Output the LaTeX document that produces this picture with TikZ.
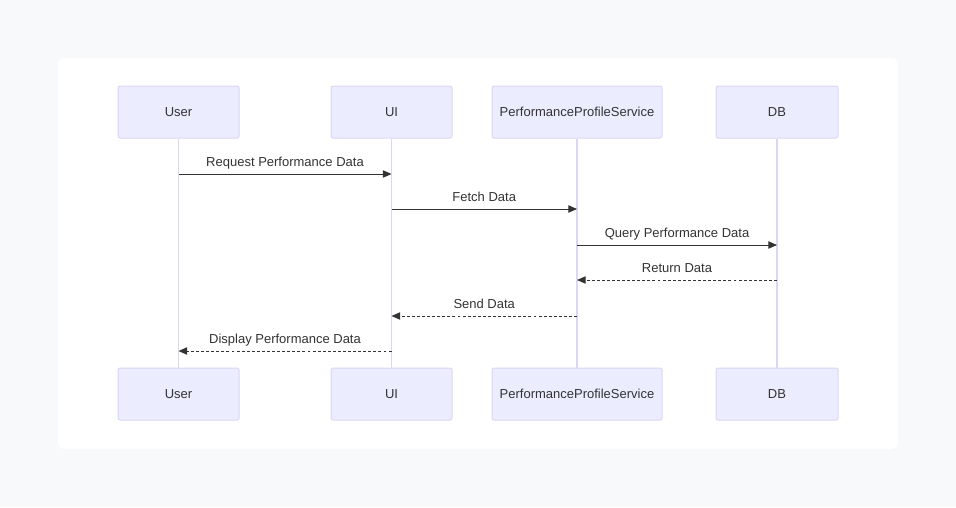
\documentclass[tikz,border=0pt]{standalone}
\usepackage{fontspec}
\setmainfont{Liberation Sans}
\usepackage{xcolor}
\definecolor{sqpage}{RGB}{248,249,250}
\definecolor{sqfill}{RGB}{236,236,255}
\definecolor{sqline}{RGB}{220,214,244}
\definecolor{sqtext}{RGB}{51,51,51}
\usetikzlibrary{arrows.meta,positioning,calc}

\begin{document}
\begin{tikzpicture}[
  x=0.75pt,y=-0.75pt,
  actor/.style={draw=sqline,fill=sqfill,line width=0.75pt,rounded corners=1.5pt,minimum height=39pt,inner sep=0pt,
    font=\fontsize{9.75}{12}\selectfont,text=sqtext},
  life/.style={draw=sqline,line width=1pt},
  msg/.style={draw=sqtext,line width=0.75pt,-{Triangle[length=6.5pt,width=5.5pt]}},
  reply/.style={msg,dashed,dash pattern=on 2.2pt off 1.6pt},
  lbl/.style={font=\fontsize{9.75}{12}\selectfont,text=sqtext,inner sep=0pt,anchor=base,yshift=5.5pt}
]
  % Page and card
  \path[fill=sqpage] (0,0) rectangle (956,507);
  \useasboundingbox (0,0) rectangle (956,507);
  \path[fill=white,rounded corners=5pt] (58,58) rectangle (898,449);
  % Actors -- top row
  \node[actor,minimum width=90.75pt] (usr) at (178.5,112) {User};
  \node[actor,minimum width=90.75pt] (ui) at (391.5,112) {UI};
  \node[actor,minimum width=127.5pt] (pps) at (577,112) {PerformanceProfileService};
  \node[actor,minimum width=91.5pt] (db) at (777,112) {DB};
  % Actors -- bottom row
  \node[actor,minimum width=90.75pt] (usrb) at (178.5,394) {User};
  \node[actor,minimum width=90.75pt] (uib) at (391.5,394) {UI};
  \node[actor,minimum width=127.5pt] (ppsb) at (577,394) {PerformanceProfileService};
  \node[actor,minimum width=91.5pt] (dbb) at (777,394) {DB};
  % Lifelines
  \draw[life] (usr) -- (usrb);
  \draw[life] (ui) -- (uib);
  \draw[life] (pps) -- (ppsb);
  \draw[life] (db) -- (dbb);
  % Requests
  \draw[msg] (usr.south |- 0,174) -- (ui.south |- 0,174)
    node[lbl,midway] {Request Performance Data};
  \draw[msg] (ui.south |- 0,209) -- (pps.south |- 0,209)
    node[lbl,midway] {Fetch Data};
  \draw[msg] (pps.south |- 0,245) -- (db.south |- 0,245)
    node[lbl,midway] {Query Performance Data};
  % Replies
  \draw[reply] (db.south |- 0,280) -- (pps.south |- 0,280)
    node[lbl,midway] {Return Data};
  \draw[reply] (pps.south |- 0,316) -- (ui.south |- 0,316)
    node[lbl,midway] {Send Data};
  \draw[reply] (ui.south |- 0,351) -- (usr.south |- 0,351)
    node[lbl,midway] {Display Performance Data};
\end{tikzpicture}
\end{document}
